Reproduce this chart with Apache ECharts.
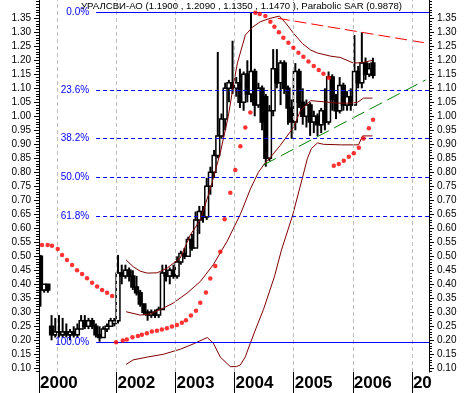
<!DOCTYPE html>
<html><head><meta charset="utf-8">
<script src="https://cdn.jsdelivr.net/npm/echarts@6/dist/echarts.min.js"></script>
<style>html,body{margin:0;padding:0;background:#fff}#c{width:467px;height:393px}</style>
</head><body><div id="c"></div>
<script>
const titleText = 'УРАЛСВИ-АО (1.1900 , 1.2090 , 1.1350 , 1.1470 ), Parabolic SAR (0.9878)';

// price bars (every 1/16 year starting at barStart)
const barStart = 2000.715, barStep = 0.0625;
const opens  = [.50,.38,.40,.25,.22,.23,.22,.23,.22,.23,.22,.24,.27,.25,.27,.25,.22,.21,.24,.25,.26,.27,.44,.43,.45,.43,.39,.37,.33,.30,.29,.30,.29,.31,.44,.43,.45,.43,.48,.51,.50,.56,.53,.63,.66,.64,.75,.80,.86,.93,.99,1.10,1.12,1.10,1.12,1.05,1.15,1.08,1.16,1.04,1.10,1.07,.85,1.02,1.17,1.12,1.19,1.10,1.03,.98,1.16,1.05,1.00,1.04,.98,1.00,.97,1.02,.98,1.14,1.06,1.02,1.11,1.04,1.07,1.04,1.16,1.12,1.19,1.15,1.19];
const highs  = [.505,.40,.40,.29,.28,.29,.28,.26,.24,.25,.26,.29,.29,.28,.28,.26,.25,.25,.26,.28,.28,.505,.47,.47,.46,.45,.43,.38,.33,.31,.31,.31,.32,.47,.47,.46,.47,.50,.52,.53,.57,.58,.66,.68,.68,.78,.82,.88,1.23,1.01,1.12,1.13,1.27,1.14,1.17,1.16,1.20,1.37,1.17,1.12,1.11,1.08,1.04,1.24,1.24,1.20,1.20,1.11,1.06,1.19,1.17,1.10,1.06,1.05,1.02,1.01,1.03,1.10,1.16,1.15,1.08,1.14,1.12,1.09,1.10,1.29,1.18,1.30,1.21,1.19,1.209];
const lows   = [.32,.37,.37,.20,.21,.21,.21,.21,.20,.21,.21,.24,.24,.24,.24,.21,.195,.21,.23,.25,.25,.26,.40,.42,.41,.38,.36,.32,.29,.27,.28,.28,.28,.31,.41,.40,.42,.42,.47,.49,.50,.52,.53,.58,.62,.63,.72,.78,.85,.92,.95,1.05,1.08,1.07,1.03,1.02,1.05,1.05,1.00,1.03,.95,.82,.84,1.00,1.10,1.04,1.08,.97,.92,.95,1.03,.97,.96,.93,.94,.93,.94,.95,.97,1.02,.99,1.01,1.02,1.02,1.02,1.04,1.10,1.10,1.13,1.14,1.135];
const closes = [.38,.40,.38,.22,.23,.22,.23,.22,.23,.22,.24,.27,.25,.27,.25,.22,.21,.24,.25,.27,.27,.44,.43,.45,.43,.39,.37,.33,.30,.29,.30,.29,.31,.44,.43,.45,.43,.48,.51,.50,.56,.53,.63,.66,.64,.75,.80,.86,.93,.99,1.10,1.12,1.10,1.12,1.05,1.15,1.08,1.16,1.04,1.10,.98,.85,1.02,1.17,1.12,1.19,1.10,1.03,.98,1.16,1.05,1.00,1.04,.98,1.00,.97,1.02,.98,1.14,1.06,1.02,1.11,1.04,1.07,1.04,1.16,1.12,1.19,1.15,1.17,1.147];

// Parabolic SAR dots
const sarTimes = [2000.741,2000.837,2000.910,2001.007,2001.080,2001.164,2001.249,2001.334,2001.419,2001.503,2001.588,2001.673,2001.758,2001.842,2001.927,
  2001.995,2002.108,2002.176,2002.271,2002.363,2002.431,2002.515,2002.600,2002.685,2002.769,2002.854,2002.939,2003.024,2003.108,2003.176,2003.261,2003.346,2003.419,2003.515,2003.588,2003.673,2003.758,2003.831,2003.927,2004.012,2004.097,2004.181,2004.266,
  2004.351,2004.424,2004.520,2004.605,2004.673,2004.749,2004.825,2004.910,2004.995,2005.080,2005.164,2005.249,2005.339,2005.424,2005.503,2005.593,
  2005.678,2005.763,2005.847,2005.932,2006.017,2006.102,2006.181,2006.271,2006.342];
const sarValues = [0.540,0.540,0.538,0.526,0.505,0.487,0.469,0.450,0.437,0.422,0.406,0.392,0.380,0.370,0.358,
  0.193,0.199,0.203,0.211,0.215,0.220,0.225,0.231,0.234,0.239,0.243,0.249,0.255,0.263,0.272,0.289,0.306,0.334,0.371,0.421,0.465,0.516,0.632,0.727,0.808,0.893,0.960,1.014,
  1.370,1.365,1.358,1.338,1.320,1.300,1.281,1.263,1.245,1.227,1.213,1.196,1.180,1.165,1.152,1.138,
  0.823,0.830,0.841,0.856,0.868,0.888,0.921,0.957,0.9878];

// Bollinger bands [time, value]
const upperBand = [[2002.164,0.487],[2002.283,0.463],[2002.402,0.447],[2002.520,0.440],[2002.690,0.441],[2002.859,0.458],[2003.080,0.494],[2003.249,0.576],[2003.419,0.630],[2003.588,0.740],[2003.758,0.870],[2003.893,1.000],[2003.978,1.110],[2004.047,1.190],[2004.181,1.290],[2004.300,1.318],[2004.436,1.338],[2004.605,1.350],[2004.758,1.358],[2004.876,1.330],[2004.995,1.297],[2005.147,1.260],[2005.283,1.237],[2005.402,1.226],[2005.622,1.215],[2005.792,1.210],[2006.012,1.190],[2006.164,1.192],[2006.333,1.200]];
const middleBand = [[2002.164,0.302],[2002.402,0.290],[2002.571,0.294],[2002.792,0.315],[2002.961,0.333],[2003.198,0.369],[2003.419,0.410],[2003.639,0.470],[2003.876,0.555],[2004.097,0.650],[2004.266,0.740],[2004.402,0.800],[2004.503,0.830],[2004.639,0.862],[2004.775,0.897],[2004.995,0.960],[2005.114,1.020],[2005.283,1.056],[2005.503,1.052],[2005.741,1.047],[2005.961,1.047],[2006.080,1.050],[2006.181,1.065],[2006.333,1.065]];
const lowerBand = [[2002.164,0.114],[2002.283,0.130],[2002.520,0.140],[2002.792,0.150],[2003.080,0.168],[2003.300,0.187],[2003.537,0.210],[2003.639,0.190],[2003.758,0.140],[2003.927,0.106],[2004.029,0.106],[2004.097,0.112],[2004.181,0.141],[2004.266,0.190],[2004.351,0.237],[2004.488,0.310],[2004.673,0.427],[2004.792,0.522],[2004.978,0.644],[2005.147,0.780],[2005.232,0.850],[2005.300,0.885],[2005.402,0.905],[2005.503,0.900],[2005.808,0.898],[2006.097,0.898],[2006.164,0.930],[2006.333,0.930]];

// Trend lines
const resistanceLine = [[2004.730,1.350],[2007.232,1.262]];
const supportLine = [[2004.486,0.826],[2007.232,1.130]];

// Fibonacci retracement
const fibLabels = ['0.0%','23.6%','38.2%','50.0%','61.8%','100.0%'];
const fibLevels = [1.371,1.093,0.921,0.782,0.643,0.193];
const fibStart = 2001.656;

// Axes
const xMin = 2000.690, xMax = 2007.289;
const yMin = 0.0868, yMax = 1.4154;
const yearTicks = [2000.690,2002,2003,2004,2005,2006,2007];
const yearLabels = ['2000','2002','2003','2004','2005','2006','20'];
const gridYears = [2001,2002,2003,2004,2005,2006,2007];
const yTicks = [0.10,0.15,0.20,0.25,0.30,0.35,0.40,0.45,0.50,0.55,0.60,0.65,0.70,0.75,0.80,0.85,0.90,0.95,1.00,1.05,1.10,1.15,1.20,1.25,1.30,1.35];
const yMinorTicks = [];
for (let k = 9; k <= 141; k++) yMinorTicks.push(k / 100);

const FONT = "'Liberation Sans', Arial, sans-serif";

const bars = opens.map((o, i) => [barStart + i * barStep, o, highs[i], lows[i], closes[i]]);

function yAxisDef(pos, minor) {
  return {
    type: 'value', position: pos, min: yMin, max: yMax,
    axisLine: { show: !minor, lineStyle: { color: '#000', width: 1 } },
    axisTick: { show: true, inside: false, length: minor ? 3 : 5, customValues: minor ? yMinorTicks : yTicks, lineStyle: { color: '#000' } },
    axisLabel: minor ? { show: false } : {
      show: true, customValues: yTicks, margin: 8, fontSize: 10, color: '#000', fontFamily: FONT,
      formatter: v => v.toFixed(2)
    },
    splitLine: { show: false }
  };
}

const chart = echarts.init(document.getElementById('c'), null, { renderer: 'canvas' });
chart.setOption({
  animation: false,
  backgroundColor: '#fff',
  title: { text: titleText, left: 81, top: 1, padding: 0,
    textStyle: { fontSize: 9.6, fontWeight: 'normal', color: '#000', fontFamily: FONT } },
  grid: { left: 39, right: 38, top: 0, bottom: 21 },
  xAxis: {
    type: 'value', min: xMin, max: xMax,
    axisLine: { show: false },
    splitLine: { show: false },
    axisTick: { show: true, length: 21, customValues: yearTicks, lineStyle: { color: '#000', width: 1 } },
    axisLabel: {
      show: true, customValues: yearTicks, align: 'left', margin: 3, padding: [0, 0, 0, 1],
      fontSize: 17, fontWeight: 'bold', color: '#000', fontFamily: FONT,
      formatter: v => { const i = yearTicks.findIndex(y => Math.abs(y - v) < 1e-6); return i >= 0 ? yearLabels[i] : ''; }
    }
  },
  yAxis: [yAxisDef('left', false), yAxisDef('left', true), yAxisDef('right', false), yAxisDef('right', true)],
  series: [
    { type: 'line', data: [], z: 1, silent: true,
      markLine: { silent: true, symbol: ['none', 'none'], label: { show: false },
        lineStyle: { color: '#bdbdbd', type: [4, 3], width: 1 },
        data: gridYears.map(y => ({ xAxis: y })) } },
    { type: 'custom', z: 2, clip: true,
      encode: { x: 0, y: [1, 2, 3, 4] },
      data: bars,
      renderItem: (params, api) => {
        const t = api.value(0), o = api.value(1), h = api.value(2), l = api.value(3), c = api.value(4);
        const pH = api.coord([t, h]), pL = api.coord([t, l]), pO = api.coord([t, o]), pC = api.coord([t, c]);
        const x = pH[0], w = 3.8;
        const top = Math.min(pO[1], pC[1]);
        const ht = Math.max(Math.abs(pO[1] - pC[1]), 1);
        return { type: 'group', children: [
          { type: 'line', shape: { x1: x, y1: pH[1], x2: x, y2: pL[1] }, style: { stroke: '#000', lineWidth: 2 } },
          { type: 'rect', shape: { x: x - w / 2, y: top, width: w, height: ht },
            style: { fill: c >= o ? '#fff' : '#000', stroke: '#000', lineWidth: 1.5 } }
        ] };
      } },
    { type: 'line', data: upperBand, z: 3, showSymbol: false, silent: true, lineStyle: { color: '#800000', width: 1 } },
    { type: 'line', data: middleBand, z: 3, showSymbol: false, silent: true, lineStyle: { color: '#800000', width: 1 } },
    { type: 'line', data: lowerBand, z: 3, showSymbol: false, silent: true, lineStyle: { color: '#800000', width: 1 } },
    { type: 'line', data: resistanceLine, z: 3, showSymbol: false, silent: true, lineStyle: { color: '#ff0000', width: 1, type: [12, 5] } },
    { type: 'line', data: supportLine, z: 3, showSymbol: false, silent: true, lineStyle: { color: '#008000', width: 1, type: [14, 6] } },
    { type: 'line', data: [], z: 4, silent: true,
      markLine: { silent: true, symbol: ['none', 'none'],
        label: { show: true, position: 'start', distance: 7, color: '#0000ff', fontSize: 10, fontFamily: FONT, formatter: p => p.name },
        lineStyle: { color: '#0000ff', width: 1, type: [4, 3] },
        data: fibLevels.map((v, i) => {
          const solid = (i === 0 || i === fibLevels.length - 1);
          return [{ name: fibLabels[i], coord: [fibStart, v], lineStyle: { type: solid ? 'solid' : [4, 3], color: '#0000ff', width: 1 } },
                  { coord: [xMax, v] }];
        }) } },
    { type: 'scatter', z: 5, silent: true, symbol: 'circle', symbolSize: 4.5,
      itemStyle: { color: '#ff0000' },
      data: sarTimes.map((t, i) => [t, sarValues[i]]) }
  ]
});
</script></body></html>
